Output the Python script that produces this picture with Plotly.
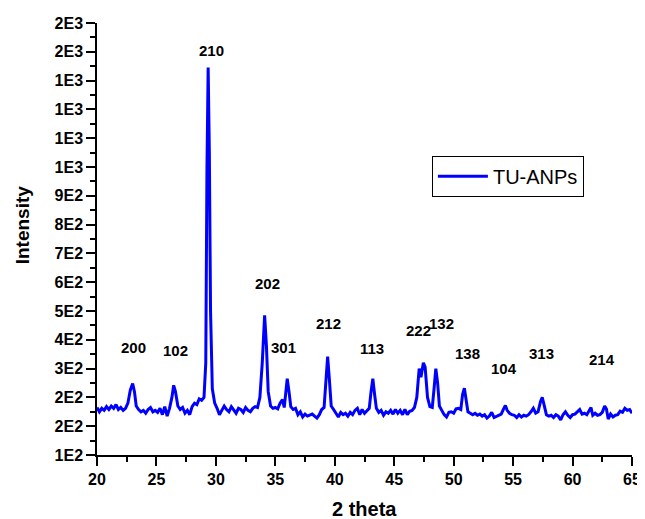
import plotly.graph_objects as go

two_theta = [
    20.0, 20.2, 20.4, 20.6, 20.8, 21.0, 21.2, 21.4, 21.6, 21.8, 22.0, 22.2, 22.4, 22.6, 22.8,
    23.0, 23.15, 23.3, 23.5, 23.7, 23.9, 24.1, 24.3, 24.5, 24.7, 24.9, 25.1, 25.3, 25.5, 25.7,
    25.9, 26.1, 26.3, 26.45, 26.6, 26.8, 27.0, 27.2, 27.4, 27.6, 27.8, 28.0, 28.2, 28.4, 28.6,
    28.8, 29.0, 29.15, 29.25, 29.35, 29.45, 29.55, 29.7, 29.9, 30.1, 30.3, 30.5, 30.7, 30.9,
    31.1, 31.3, 31.5, 31.7, 31.9, 32.1, 32.3, 32.5, 32.7, 32.9, 33.1, 33.3, 33.5, 33.7, 33.9,
    34.1, 34.25, 34.4, 34.6, 34.8, 35.0, 35.2, 35.4, 35.6, 35.75, 35.9, 36.0, 36.15, 36.3,
    36.5, 36.7, 36.9, 37.1, 37.3, 37.5, 37.7, 37.9, 38.1, 38.3, 38.5, 38.7, 38.9, 39.1, 39.25,
    39.4, 39.55, 39.7, 39.9, 40.1, 40.3, 40.5, 40.7, 40.9, 41.1, 41.3, 41.5, 41.7, 41.9, 42.1,
    42.3, 42.5, 42.7, 42.9, 43.05, 43.2, 43.35, 43.5, 43.7, 43.9, 44.1, 44.3, 44.5, 44.7, 44.9,
    45.1, 45.3, 45.5, 45.7, 45.9, 46.1, 46.3, 46.5, 46.7, 46.9, 47.1, 47.25, 47.45, 47.6, 47.8,
    48.0, 48.2, 48.35, 48.5, 48.65, 48.8, 49.0, 49.2, 49.4, 49.6, 49.8, 50.0, 50.2, 50.4, 50.6,
    50.75, 50.9, 51.05, 51.2, 51.4, 51.6, 51.8, 52.0, 52.2, 52.4, 52.6, 52.8, 53.0, 53.2, 53.4,
    53.6, 53.8, 54.0, 54.2, 54.35, 54.5, 54.7, 54.9, 55.1, 55.3, 55.5, 55.7, 55.9, 56.1, 56.3,
    56.5, 56.7, 56.9, 57.1, 57.3, 57.45, 57.6, 57.8, 58.0, 58.2, 58.4, 58.6, 58.8, 59.0, 59.2,
    59.4, 59.6, 59.8, 60.0, 60.2, 60.4, 60.6, 60.8, 61.0, 61.2, 61.4, 61.55, 61.7, 61.9, 62.1,
    62.3, 62.5, 62.7, 62.85, 63.0, 63.2, 63.4, 63.6, 63.8, 64.0, 64.2, 64.4, 64.6, 64.8, 65.0,
]
intensity = [
    265, 250, 262, 255, 268, 258, 270, 262, 275, 258, 265, 255, 262, 280, 325,
    348, 320, 270, 258, 250, 255, 245, 258, 265, 250, 255, 248, 262, 240, 268,
    235, 262, 300, 342, 320, 270, 258, 265, 245, 255, 240, 268, 280, 275, 295,
    290, 300, 420, 1100, 1445, 1150, 600, 330, 280, 262, 240, 255, 270, 258,
    250, 268, 255, 245, 262, 258, 248, 265, 255, 250, 262, 268, 265, 300, 420,
    585, 480, 320, 270, 262, 265, 260, 280, 292, 265, 330, 365, 320, 268,
    258, 262, 240, 250, 232, 242, 235, 240, 242, 235, 228, 240, 258, 265, 360,
    442, 360, 270, 258, 245, 232, 248, 240, 245, 235, 248, 240, 255, 262, 240,
    258, 245, 255, 262, 320, 365, 310, 262, 248, 255, 238, 250, 245, 255, 242,
    258, 245, 255, 240, 258, 240, 252, 255, 265, 300, 400, 370, 420, 405, 300,
    268, 265, 330, 400, 350, 270, 255, 240, 232, 248, 250, 245, 260, 262, 258,
    310, 332, 290, 250, 245, 240, 245, 238, 242, 235, 240, 228, 235, 248, 230,
    235, 238, 242, 260, 272, 255, 245, 240, 238, 230, 240, 232, 238, 235, 240,
    250, 262, 245, 250, 285, 300, 275, 240, 235, 238, 230, 240, 235, 222, 240,
    250, 238, 230, 240, 242, 250, 258, 242, 245, 240, 252, 265, 238, 245, 238,
    240, 248, 270, 260, 225, 242, 232, 238, 240, 252, 248, 262, 255, 258, 245,
]

peak_labels = ["200", "102", "210", "202", "301", "212", "113", "222", "132", "138", "104", "313", "214"]
peak_x = [23.1, 26.6, 29.6, 34.3, 35.7, 39.5, 43.1, 47.0, 49.0, 51.2, 54.2, 57.4, 62.5]
peak_y = [475, 462, 1506, 697, 475, 555, 471, 534, 555, 454, 400, 454, 430]

x_tickvals = [20, 25, 30, 35, 40, 45, 50, 55, 60, 65]
y_tickvals = [100, 200, 300, 400, 500, 600, 700, 800, 900, 1000, 1100, 1200, 1300, 1400, 1500, 1600]
y_ticktext = ["1E2", "2E2", "2E2", "3E2", "4E2", "5E2", "6E2", "7E2", "8E2", "9E2",
              "1E3", "1E3", "1E3", "1E3", "2E3", "2E3"]
y_minor = [150, 250, 350, 450, 550, 650, 750, 850, 950, 1050, 1150, 1250, 1350, 1450, 1550]

FONT = "Arial, Liberation Sans, sans-serif"

fig = go.Figure()
fig.add_trace(go.Scatter(
    x=two_theta, y=intensity, mode="lines", name="TU-ANPs",
    line=dict(color="#0000FF", width=3),
))

for lab, px, py in zip(peak_labels, peak_x, peak_y):
    fig.add_annotation(x=px, y=py, text="<b>%s</b>" % lab, showarrow=False,
                       font=dict(family=FONT, size=15, color="black"),
                       xanchor="center", yanchor="middle")

# axis titles
fig.add_annotation(xref="paper", yref="paper", x=0.5, y=-0.125, text="<b>2 theta</b>",
                   showarrow=False, xanchor="center", yanchor="middle",
                   font=dict(family=FONT, size=20, color="black"))
fig.add_annotation(xref="paper", yref="paper", x=-0.140, y=0.532, text="<b>Intensity</b>",
                   showarrow=False, xanchor="center", yanchor="middle", textangle=-90,
                   font=dict(family=FONT, size=19, color="black"))

# the page body adds an 8px offset, so the figure is 8px smaller on each side
fig.update_layout(
    width=637, height=511,
    margin=dict(l=89, r=13, t=15, b=64),
    paper_bgcolor="white", plot_bgcolor="white",
    font=dict(family=FONT, color="black"),
    showlegend=True,
    legend=dict(x=0.626, y=0.645, xanchor="left", yanchor="middle",
                bordercolor="black", borderwidth=1, bgcolor="white",
                font=dict(family=FONT, size=20, color="black"),
                itemwidth=50, tracegroupgap=0),
)
fig.update_xaxes(
    range=[20, 65], showline=True, linecolor="black", linewidth=1.5,
    ticks="outside", ticklen=9, tickwidth=1.5, tickcolor="black",
    tickmode="array", tickvals=x_tickvals,
    minor=dict(ticks="outside", ticklen=5, tickwidth=1.5, tickcolor="black", dtick=2.5, tick0=20),
    showgrid=False, zeroline=False, automargin=False,
    tickfont=dict(family=FONT, size=16, color="black", weight="bold"),
)
fig.update_yaxes(
    range=[100, 1600], showline=True, linecolor="black", linewidth=1.5,
    ticks="outside", ticklen=9, tickwidth=1.5, tickcolor="black",
    tickmode="array", tickvals=y_tickvals, ticktext=y_ticktext,
    minor=dict(ticks="outside", ticklen=5, tickwidth=1.5, tickcolor="black", tickmode="array", tickvals=y_minor),
    showgrid=False, zeroline=False, automargin=False,
    tickfont=dict(family=FONT, size=16, color="black", weight="bold"),
)

fig.write_html("out.html")
